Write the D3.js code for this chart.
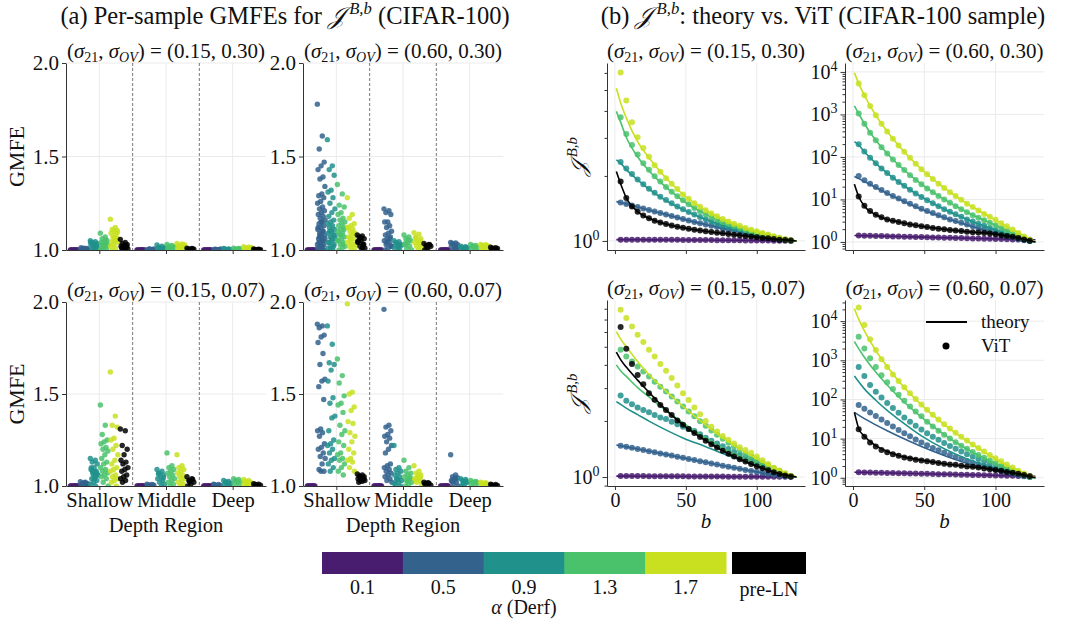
<!DOCTYPE html>
<html>
<head>
<meta charset="utf-8">
<script src="https://cdn.jsdelivr.net/npm/d3@7"></script>
<style>
body { margin: 0; background: #fff; }
text { font-family: "Liberation Serif", "Times New Roman", serif; fill: #111; }
</style>
</head>
<body>
<svg id="chart" width="1068" height="625"></svg>
<script>
// alpha (Derf) values and pre-LN, colours of the discrete viridis bar
var alphas = ['0.1', '0.5', '0.9', '1.3', '1.7'];
var groupColors = ['#481c6e', '#33628d', '#21918c', '#4ac26c', '#c8e020', '#000000'];
var regions = ['Shallow', 'Middle', 'Deep'];
var gmfeTicks = [1.0, 1.5, 2.0];

// ---- panel (a): per-sample GMFE, one list per group (0.1,0.5,0.9,1.3,1.7,pre-LN)
// (0.15, 0.30)
var a1Shallow = [
    [1,1,1,1,1,1,1,1,1,1],
    [1,1.003,1.005,1.008,1.01,1.012,1.006,1.002,1,1.004],
    [1.05,1.045,1.04,1.035,1.03,1.025,1.02,1.015,1.01,1.005,1,1.03,1.02,1.04,1.01],
    [1.09,1.07,1.06,1.05,1.045,1.04,1.035,1.03,1.025,1.02,1.015,1.01,1.005,1,1.055,1.03],
    [1.165,1.12,1.11,1.105,1.1,1.09,1.08,1.07,1.06,1.05,1.045,1.04,1.03,1.02,1.01,1,1.095,1.065],
    [1.057,1.04,1.035,1.03,1.025,1.02,1.015,1.01,1.005,1,1.01,1.02]
];
var a1Middle = [
    [1,1,1,1,1,1,1,1,1,1],
    [1,1.002,1.004,1.006,1.003,1,1.001,1.005],
    [1.027,1.02,1.015,1.01,1.008,1.005,1.003,1,1.012],
    [1.03,1.025,1.02,1.015,1.01,1.005,1,1.012,1.018],
    [1.035,1.032,1.025,1.02,1.015,1.01,1.005,1,1.028,1.012],
    [1.01,1.008,1.006,1.004,1.002,1,1.005,1.003]
];
var a1Deep = [
    [1,1,1,1,1,1,1,1,1,1],
    [1,1.002,1.004,1.005,1.001,1.003,1,1.002],
    [1.008,1.006,1.004,1.002,1,1.005,1.003],
    [1.01,1.008,1.006,1.004,1.002,1,1.005],
    [1.018,1.015,1.012,1.01,1.008,1.005,1.002,1,1.014],
    [1.005,1.004,1.003,1.002,1.001,1,1.002]
];
// (0.60, 0.30)
var a2Shallow = [
    [1,1,1,1,1,1,1,1,1,1],
    [1.78,1.61,1.54,1.47,1.45,1.43,1.39,1.38,1.34,1.3,1.29,1.28,1.26,1.25,1.23,1.22,1.21,1.2,1.19,1.18,1.17,1.16,1.15,1.14,1.13,1.12,1.11,1.1,1.09,1.08,1.07,1.06,1.05,1.04,1.03,1.02,1.01,1,1.15,1.12,1.1,1.08,1.06,1.05,1.04,1.03,1.02,1.01,1,1.07],
    [1.59,1.45,1.43,1.4,1.32,1.31,1.28,1.25,1.22,1.2,1.18,1.16,1.15,1.14,1.13,1.12,1.11,1.1,1.09,1.08,1.07,1.06,1.05,1.04,1.03,1.02,1.01,1,1.1,1.08,1.06,1.04,1.02,1.005],
    [1.35,1.3,1.24,1.23,1.2,1.19,1.17,1.16,1.15,1.14,1.13,1.12,1.11,1.1,1.09,1.08,1.07,1.06,1.05,1.04,1.03,1.02,1.01,1,1.11,1.08,1.05,1.03],
    [1.28,1.19,1.17,1.14,1.13,1.12,1.11,1.1,1.09,1.08,1.07,1.06,1.05,1.04,1.03,1.02,1.01,1,1.12,1.09,1.06,1.03],
    [1.08,1.075,1.07,1.06,1.05,1.04,1.03,1.02,1.01,1,1.05,1.03,1.065,1.045,1.015]
];
var a2Middle = [
    [1,1,1,1,1,1,1,1,1,1],
    [1.22,1.21,1.2,1.19,1.15,1.15,1.13,1.12,1.1,1.09,1.08,1.07,1.06,1.05,1.04,1.03,1.02,1.01,1,1.06,1.04,1.02],
    [1.05,1.045,1.04,1.03,1.02,1.01,1,1.035,1.025,1.015],
    [1.08,1.07,1.06,1.05,1.04,1.03,1.02,1.01,1,1.055,1.035],
    [1.093,1.085,1.07,1.06,1.05,1.04,1.03,1.02,1.01,1,1.065,1.045],
    [1.035,1.03,1.025,1.02,1.01,1,1.028,1.015]
];
var a2Deep = [
    [1,1,1,1,1,1,1,1,1,1],
    [1.04,1.038,1.035,1.03,1.025,1.02,1.01,1,1.015,1.005],
    [1.02,1.018,1.015,1.01,1.005,1,1.012],
    [1.03,1.025,1.02,1.015,1.01,1.005,1,1.02],
    [1.03,1.028,1.025,1.02,1.015,1.01,1.005,1,1.022],
    [1.015,1.012,1.01,1.008,1.005,1.002,1]
];
// (0.15, 0.07)
var a3Shallow = [
    [1,1,1,1,1,1,1,1,1,1],
    [1.023,1.02,1.015,1.01,1.008,1.005,1.002,1,1.012,1.018],
    [1.15,1.14,1.13,1.12,1.1,1.09,1.08,1.07,1.06,1.05,1.04,1.03,1.02,1.01,1,1.08,1.06,1.04,1.1,1.075,1.065],
    [1.44,1.33,1.28,1.25,1.24,1.23,1.21,1.2,1.19,1.17,1.15,1.13,1.12,1.1,1.09,1.08,1.07,1.06,1.05,1.04,1.02,1],
    [1.62,1.38,1.33,1.32,1.26,1.25,1.22,1.2,1.17,1.14,1.12,1.1,1.09,1.08,1.06,1.05,1.04,1.03,1.02,1],
    [1.31,1.3,1.22,1.2,1.17,1.14,1.13,1.12,1.1,1.09,1.08,1.06,1.05,1.04,1.03,1.02]
];
var a3Middle = [
    [1,1,1,1,1,1,1,1,1,1],
    [1.01,1.008,1.006,1.004,1.002,1,1.005,1.003],
    [1.09,1.08,1.07,1.06,1.05,1.04,1.03,1.02,1.01,1,1.065,1.045],
    [1.18,1.11,1.1,1.09,1.08,1.07,1.06,1.05,1.04,1.03,1.02,1.01,1],
    [1.17,1.11,1.1,1.09,1.08,1.07,1.06,1.05,1.04,1.03,1.02,1.01,1],
    [1.05,1.04,1.03,1.02,1.01,1,1.035,1.025]
];
var a3Deep = [
    [1,1,1,1,1,1,1,1,1,1],
    [1.01,1.008,1.005,1.003,1,1.006],
    [1.03,1.025,1.02,1.015,1.01,1.005,1,1.022],
    [1.04,1.035,1.03,1.025,1.02,1.01,1,1.028],
    [1.035,1.03,1.025,1.02,1.015,1.01,1.005,1],
    [1.012,1.01,1.008,1.005,1.003,1]
];
// (0.60, 0.07)
var a4Shallow = [
    [1,1,1,1,1,1,1,1,1,1],
    [1.88,1.87,1.86,1.82,1.81,1.78,1.72,1.66,1.58,1.57,1.54,1.47,1.31,1.3,1.29,1.27,1.23,1.21,1.2,1.18,1.16,1.15,1.12,1.09,1.08,1.08],
    [1.87,1.77,1.67,1.66,1.63,1.57,1.48,1.45,1.38,1.37,1.3,1.25,1.23,1.22,1.2,1.18,1.15,1.14,1.12,1.1,1.08],
    [1.69,1.6,1.56,1.49,1.45,1.44,1.4,1.33,1.3,1.28,1.24,1.22,1.18,1.17,1.15,1.14,1.12,1.1,1.08,1.06],
    [1.99,1.51,1.5,1.43,1.41,1.35,1.34,1.29,1.27,1.24,1.2,1.18,1.15,1.14,1.13,1.1,1.08],
    [1.065,1.06,1.055,1.05,1.045,1.04,1.035,1.03,1.03,1.025,1.02,1.04,1.05]
];
var a4Middle = [
    [1,1,1,1,1,1,1,1,1,1],
    [1.96,1.33,1.32,1.3,1.28,1.27,1.26,1.24,1.22,1.2,1.18,1.12,1.11,1.1,1.09,1.08,1.07,1.06,1.05,1.04,1.03,1.02],
    [1.22,1.1,1.09,1.08,1.07,1.06,1.05,1.04,1.03,1.02,1.01,1,1.035,1.015],
    [1.14,1.1,1.08,1.07,1.06,1.05,1.04,1.03,1.02,1.01,1,1.045,1.025],
    [1.11,1.08,1.07,1.06,1.05,1.04,1.03,1.02,1.01,1.055,1.035,1.045],
    [1.02,1.015,1.01,1.005,1.018,1.012]
];
var a4Deep = [
    [1,1,1,1,1,1,1,1,1,1],
    [1.17,1.06,1.05,1.045,1.04,1.03,1.02,1.01,1,1.035,1.025],
    [1.04,1.035,1.03,1.02,1.01,1,1.025,1.015],
    [1.03,1.025,1.02,1.015,1.01,1,1.022],
    [1.02,1.018,1.015,1.01,1.005,1,1.012],
    [1.01,1.008,1.005,1.003,1,1.006]
];

// ---- panel (b): log10 of J^{B,b}
var vitB = [4,8,12,16,20,24,28,32,36,40,44,48,52,56,60,64,68,72,76,80,84,88,92,96,100,104,108,112,116,120,124];
var theoryB = [1,4,8,16,24,32,48,64,80,96,112,128];

// (0.15, 0.30)
var b1Vit = [
    [.006,.006,.006,.006,.005,.005,.005,.005,.005,.005,.005,.004,.004,.004,.004,.004,.004,.003,.003,.003,.003,.003,.002,.002,.002,.002,.002,.001,.001,.001,.001],
    [.178,.171,.164,.157,.15,.143,.136,.129,.122,.115,.108,.101,.095,.088,.082,.076,.07,.064,.058,.052,.047,.041,.036,.031,.026,.021,.016,.012,.008,.004,.001],
    [.365,.335,.31,.285,.262,.242,.223,.205,.189,.174,.16,.147,.134,.122,.111,.1,.09,.081,.072,.064,.056,.049,.042,.036,.03,.024,.019,.014,.009,.005,.002],
    [.573,.495,.444,.40,.36,.33,.30,.275,.25,.228,.207,.188,.17,.153,.138,.124,.111,.099,.088,.078,.069,.06,.052,.045,.038,.031,.025,.018,.012,.007,.002],
    [.78,.65,.55,.48,.43,.39,.35,.32,.29,.265,.24,.215,.195,.175,.158,.142,.127,.114,.102,.09,.08,.07,.06,.052,.045,.037,.03,.022,.015,.008,.003],
    [.275,.199,.159,.135,.118,.105,.094,.085,.078,.071,.066,.061,.056,.052,.048,.045,.041,.038,.035,.032,.029,.026,.023,.02,.017,.014,.012,.009,.006,.004,.002]
];
var b1Theory = [
    [.006,.006,.006,.006,.005,.005,.004,.004,.003,.002,.001,0],
    [.182,.178,.171,.157,.143,.129,.101,.076,.052,.031,.012,0],
    [.375,.36,.33,.283,.24,.203,.145,.099,.063,.035,.013,0],
    [.6,.55,.48,.39,.325,.272,.186,.123,.077,.044,.018,0],
    [.707,.64,.57,.46,.385,.32,.215,.142,.09,.052,.022,0],
    [.321,.265,.2,.135,.105,.085,.061,.045,.032,.02,.009,0]
];
// (0.60, 0.30)
var b2Vit = [
    [.15,.147,.143,.14,.137,.133,.13,.127,.123,.12,.117,.113,.11,.107,.103,.1,.097,.093,.09,.087,.083,.08,.077,.073,.07,.067,.063,.06,.057,.053,.05],
    [1.55,1.45,1.37,1.29,1.22,1.15,1.08,1.02,.96,.9,.84,.78,.73,.68,.63,.58,.53,.49,.45,.41,.37,.33,.29,.25,.21,.18,.14,.11,.07,.04,.02],
    [2.3,2.13,1.98,1.85,1.73,1.62,1.51,1.41,1.32,1.23,1.14,1.06,.98,.91,.84,.77,.71,.65,.59,.53,.48,.43,.38,.33,.28,.24,.19,.15,.1,.06,.02],
    [3.02,2.78,2.57,2.39,2.23,2.08,1.94,1.81,1.69,1.57,1.46,1.36,1.26,1.17,1.08,1.0,.92,.84,.77,.7,.63,.57,.51,.45,.39,.33,.27,.21,.15,.09,.04],
    [3.73,3.45,3.2,2.98,2.78,2.6,2.43,2.27,2.12,1.98,1.84,1.71,1.59,1.48,1.37,1.27,1.17,1.08,.99,.9,.82,.74,.66,.59,.52,.44,.37,.29,.21,.13,.05],
    [1.07,.85,.73,.64,.58,.53,.5,.47,.44,.41,.39,.37,.35,.33,.31,.3,.28,.27,.26,.24,.23,.22,.21,.2,.18,.16,.14,.12,.09,.06,.03]
];
var b2Theory = [
    [.15,.149,.147,.14,.134,.127,.113,.1,.087,.073,.06,.05],
    [1.54,1.49,1.42,1.28,1.14,1.01,.77,.57,.4,.24,.1,0],
    [2.36,2.28,2.12,1.85,1.62,1.41,1.06,.77,.53,.33,.15,0],
    [3.2,3.02,2.78,2.39,2.08,1.81,1.36,1.0,.7,.45,.21,0],
    [3.98,3.73,3.45,2.98,2.6,2.27,1.71,1.27,.9,.59,.29,0],
    [1.36,1.07,.84,.64,.53,.47,.37,.3,.24,.2,.12,0]
];
// (0.15, 0.07)
var b3Vit = [
    [.005,.005,.005,.005,.005,.004,.004,.004,.004,.004,.004,.004,.003,.003,.003,.003,.003,.003,.003,.002,.002,.002,.002,.002,.002,.001,.001,.001,.001,.001,.001],
    [.168,.162,.157,.151,.145,.139,.133,.127,.121,.115,.109,.103,.097,.091,.085,.079,.073,.067,.061,.055,.05,.044,.038,.033,.028,.022,.017,.012,.008,.004,.001],
    [.437,.409,.39,.373,.36,.348,.333,.319,.312,.297,.283,.27,.258,.247,.23,.211,.195,.18,.165,.15,.135,.12,.106,.093,.08,.067,.054,.041,.029,.017,.006],
    [.683,.647,.62,.593,.566,.539,.512,.485,.459,.432,.405,.378,.352,.326,.3,.275,.25,.227,.205,.184,.164,.145,.127,.11,.094,.078,.062,.047,.032,.018,.005],
    [.898,.853,.808,.763,.724,.683,.647,.606,.57,.531,.491,.45,.414,.373,.337,.301,.27,.245,.22,.2,.18,.16,.145,.13,.11,.09,.07,.05,.035,.02,.005],
    [.805,.688,.606,.548,.498,.45,.415,.387,.36,.333,.303,.28,.258,.236,.215,.195,.176,.158,.141,.125,.11,.096,.083,.07,.058,.047,.036,.026,.017,.009,.003]
];
var b3Theory = [
    [.005,.005,.005,.004,.004,.004,.003,.003,.002,.002,.001,0],
    [.172,.168,.162,.151,.139,.127,.103,.079,.055,.033,.012,0],
    [.405,.39,.37,.335,.3,.268,.21,.163,.115,.07,.03,0],
    [.602,.57,.54,.48,.43,.38,.29,.21,.14,.085,.035,0],
    [.78,.74,.7,.62,.55,.49,.38,.28,.19,.115,.05,0],
    [.67,.63,.59,.52,.455,.39,.28,.195,.125,.07,.026,0]
];
// (0.60, 0.07)
var b4Vit = [
    [.14,.137,.133,.13,.127,.123,.12,.117,.113,.11,.107,.103,.1,.097,.093,.09,.087,.083,.08,.077,.073,.07,.067,.063,.06,.057,.053,.05,.047,.043,.04],
    [1.86,1.76,1.67,1.58,1.49,1.4,1.31,1.22,1.14,1.06,.98,.9,.83,.76,.7,.64,.58,.53,.48,.43,.38,.34,.3,.26,.22,.18,.14,.11,.07,.04,.02],
    [2.83,2.6,2.37,2.2,2.05,1.91,1.78,1.66,1.54,1.43,1.33,1.23,1.14,1.05,.97,.89,.81,.74,.67,.6,.54,.48,.42,.36,.31,.26,.21,.16,.11,.06,.02],
    [3.6,3.3,3.05,2.83,2.62,2.44,2.27,2.12,1.97,1.82,1.69,1.57,1.43,1.31,1.2,1.1,1.0,.91,.82,.74,.66,.58,.51,.44,.38,.31,.25,.19,.13,.08,.03],
    [4.35,3.9,3.54,3.26,3.03,2.83,2.64,2.47,2.31,2.16,2.01,1.87,1.74,1.61,1.49,1.37,1.26,1.15,1.05,.95,.85,.76,.67,.58,.5,.42,.34,.26,.18,.11,.04],
    [1.24,1.05,.9,.8,.71,.65,.6,.56,.52,.49,.46,.44,.42,.4,.38,.36,.34,.33,.31,.29,.28,.26,.24,.22,.2,.18,.15,.13,.1,.07,.04]
];
var b4Theory = [
    [.14,.139,.137,.13,.123,.117,.103,.09,.077,.063,.05,.04],
    [1.67,1.6,1.51,1.35,1.2,1.06,.8,.57,.37,.21,.08,0],
    [2.6,2.45,2.27,1.98,1.72,1.49,1.07,.74,.48,.28,.12,0],
    [3.48,3.3,3.08,2.7,2.37,2.07,1.55,1.1,.73,.43,.19,0],
    [4.32,4.05,3.75,3.25,2.84,2.47,1.86,1.36,.94,.57,.25,0],
    [1.67,1.26,1.06,.82,.67,.57,.45,.36,.29,.22,.13,0]
];

var svg = d3.select('#chart');
var FONT = '"Liberation Serif", "Times New Roman", serif';

function styleAxis(g, size){
    g.attr('font-family', FONT).attr('font-size', size);
    g.select('.domain').attr('stroke', '#333');
    g.selectAll('.tick line').attr('stroke', '#333');
    g.selectAll('.tick text').attr('fill', '#111');
}

// (σ21, σOV) = (a, b) title with sub-scripts
function sigmaTitle(cx, y, s21, sov){
    var t = svg.append('text').attr('x', cx).attr('y', y)
        .attr('text-anchor', 'middle').style('font-size', '21px');
    t.append('tspan').text('(');
    t.append('tspan').style('font-style', 'italic').text('σ');
    t.append('tspan').attr('dy', 4).style('font-size', '14px').text('21');
    t.append('tspan').attr('dy', -4).text(', ');
    t.append('tspan').style('font-style', 'italic').text('σ');
    t.append('tspan').attr('dy', 4).style('font-size', '14px').style('font-style', 'italic').text('OV');
    t.append('tspan').attr('dy', -4).text(') = (' + s21 + ', ' + sov + ')');
}

// script J with B,b superscript
function jLabel(sel, size){
    sel.append('tspan').style('font-style', 'italic').text('𝒥');
    sel.append('tspan').attr('dy', -size * 0.42).style('font-size', (size * 0.68) + 'px')
        .style('font-style', 'italic').text(' B,b');
    return sel;
}

function drawStrip(p){
    var x = d3.scaleLinear().domain([-0.5, 2.5]).range([p.left, p.right]);
    var y = d3.scaleLinear().domain([1, 2]).range([p.bottom, p.top]);
    var g = svg.append('g');

    // grid
    g.selectAll('line.hg').data(gmfeTicks).enter().append('line')
        .attr('x1', p.left).attr('x2', p.right)
        .attr('y1', function(d){ return y(d); }).attr('y2', function(d){ return y(d); })
        .attr('stroke', '#ebebeb');
    g.selectAll('line.vg').data([0, 1, 2]).enter().append('line')
        .attr('y1', p.top).attr('y2', p.bottom)
        .attr('x1', function(d){ return x(d); }).attr('x2', function(d){ return x(d); })
        .attr('stroke', '#ebebeb');
    // region dividers
    g.selectAll('line.div').data([0.5, 1.5]).enter().append('line')
        .attr('y1', p.top).attr('y2', p.bottom)
        .attr('x1', function(d){ return x(d); }).attr('x2', function(d){ return x(d); })
        .attr('stroke', '#777').attr('stroke-dasharray', '3,2');

    var clipId = 'clip' + p.id;
    svg.append('clipPath').attr('id', clipId).append('rect')
        .attr('x', p.left - 5).attr('y', p.top - 5)
        .attr('width', p.right - p.left + 10).attr('height', p.bottom - p.top + 5);
    var dots = g.append('g').attr('clip-path', 'url(#' + clipId + ')');

    p.data.forEach(function(region, ri){
        region.forEach(function(vals, gi){
            dots.append('g').selectAll('circle').data(vals).enter().append('circle')
                .attr('cx', function(d, i){
                    var jit = ((i * 0.618034) % 1 - 0.5) * 0.12;
                    return x(ri + (gi - 2.5) * 0.15 + jit);
                })
                .attr('cy', function(d){ return y(d); })
                .attr('r', 2.7)
                .attr('fill', groupColors[gi])
                .attr('fill-opacity', 0.85);
        });
    });

    var yAxis = g.append('g').attr('transform', 'translate(' + p.left + ',0)')
        .call(d3.axisLeft(y).tickValues(gmfeTicks).tickFormat(d3.format('.1f'))
            .tickSize(4).tickSizeOuter(0).tickPadding(3));
    styleAxis(yAxis, 21);

    var xAxis = g.append('g').attr('transform', 'translate(0,' + p.bottom + ')')
        .call(d3.axisBottom(x).tickValues([0, 1, 2])
            .tickFormat(function(d, i){ return p.labels ? regions[i] : ''; })
            .tickSize(4).tickSizeOuter(0).tickPadding(2));
    styleAxis(xAxis, 20.5);

    sigmaTitle((p.left + p.right) / 2, p.top - 5, p.s21, p.sov);

    if(p.ylabel){
        svg.append('text').attr('transform', 'translate(24,' + ((p.top + p.bottom) / 2) + ') rotate(-90)')
            .attr('text-anchor', 'middle').style('font-size', '22px').text('GMFE');
    }
    if(p.labels){
        svg.append('text').attr('x', (p.left + p.right) / 2).attr('y', p.bottom + 46)
            .attr('text-anchor', 'middle').style('font-size', '20.5px').text('Depth Region');
    }
}

function drawCurves(p){
    var x = d3.scaleLinear().domain([-5.6, 134]).range([p.left, p.right]);
    var y = d3.scaleLog().domain([Math.pow(10, p.lo), Math.pow(10, p.hi)]).range([p.bottom, p.top]);
    var g = svg.append('g');

    var majors = [], minors = [];
    for(var k = Math.floor(p.lo); k <= Math.ceil(p.hi); k++){
        var v = Math.pow(10, k);
        if(k >= p.lo && k <= p.hi) majors.push(v);
        for(var m = 2; m < 10; m++){
            var mv = m * v;
            if(Math.log10(mv) > p.lo && Math.log10(mv) < p.hi) minors.push(mv);
        }
    }

    // grid
    g.selectAll('line.hg').data(majors).enter().append('line')
        .attr('x1', p.left).attr('x2', p.right)
        .attr('y1', function(d){ return y(d); }).attr('y2', function(d){ return y(d); })
        .attr('stroke', '#ebebeb');
    g.selectAll('line.vg').data([0, 50, 100]).enter().append('line')
        .attr('y1', p.top).attr('y2', p.bottom)
        .attr('x1', function(d){ return x(d); }).attr('x2', function(d){ return x(d); })
        .attr('stroke', '#ebebeb');

    var line = d3.line()
        .x(function(d){ return x(d[0]); })
        .y(function(d){ return y(Math.pow(10, d[1])); })
        .curve(d3.curveMonotoneX);

    groupColors.forEach(function(c, gi){
        g.append('path')
            .datum(theoryB.map(function(b, i){ return [b, p.theory[gi][i]]; }))
            .attr('d', line).attr('fill', 'none').attr('stroke', c).attr('stroke-width', 1.6);
        g.append('g').selectAll('circle')
            .data(vitB.map(function(b, i){ return [b, p.vit[gi][i]]; }))
            .enter().append('circle')
            .attr('cx', function(d){ return x(d[0]); })
            .attr('cy', function(d){ return y(Math.pow(10, d[1])); })
            .attr('r', 3).attr('fill', c).attr('fill-opacity', 0.85);
    });

    var minorAxis = g.append('g').attr('transform', 'translate(' + p.left + ',0)')
        .call(d3.axisLeft(y).tickValues(minors).tickFormat('').tickSize(2.5).tickSizeOuter(0));
    styleAxis(minorAxis, 19);
    minorAxis.select('.domain').remove();

    var yAxis = g.append('g').attr('transform', 'translate(' + p.left + ',0)')
        .call(d3.axisLeft(y).tickValues(majors).tickFormat('').tickSize(4.5).tickSizeOuter(0).tickPadding(3));
    styleAxis(yAxis, 20);
    yAxis.selectAll('.tick text').each(function(d){
        var t = d3.select(this);
        t.append('tspan').text('10');
        t.append('tspan').attr('dy', -8).style('font-size', '14px').text(Math.round(Math.log10(d)));
    });

    var xAxis = g.append('g').attr('transform', 'translate(0,' + p.bottom + ')')
        .call(d3.axisBottom(x).tickValues([0, 50, 100])
            .tickFormat(function(d){ return p.labels ? d : ''; })
            .tickSize(4).tickSizeOuter(0).tickPadding(3));
    styleAxis(xAxis, 20);

    sigmaTitle((p.left + p.right) / 2, p.top - 5, p.s21, p.sov);

    if(p.ylabel){
        var t = svg.append('text')
            .attr('transform', 'translate(586,' + ((p.top + p.bottom) / 2) + ') rotate(-90)')
            .attr('text-anchor', 'middle').style('font-size', '22px');
        jLabel(t, 22);
    }
    if(p.labels){
        svg.append('text').attr('x', (p.left + p.right) / 2).attr('y', p.bottom + 42)
            .attr('text-anchor', 'middle').style('font-size', '21px').style('font-style', 'italic').text('b');
    }
}

// main titles
var ta = svg.append('text').attr('x', 285).attr('y', 24).attr('text-anchor', 'middle').style('font-size', '24.5px');
ta.append('tspan').text('(a) Per-sample GMFEs for ');
jLabel(ta, 24.5);
ta.append('tspan').attr('dy', 24.5 * 0.42).text(' (CIFAR-100)');

var tb = svg.append('text').attr('x', 823).attr('y', 24).attr('text-anchor', 'middle').style('font-size', '24.5px');
tb.append('tspan').text('(b) ');
jLabel(tb, 24.5);
tb.append('tspan').attr('dy', 24.5 * 0.42).text(': theory vs. ViT (CIFAR-100 sample)');

drawStrip({id: 'a1', left: 66, right: 266, top: 63, bottom: 250, data: [a1Shallow, a1Middle, a1Deep], s21: '0.15', sov: '0.30', ylabel: true, labels: false});
drawStrip({id: 'a2', left: 303, right: 503, top: 63, bottom: 250, data: [a2Shallow, a2Middle, a2Deep], s21: '0.60', sov: '0.30', ylabel: false, labels: false});
drawStrip({id: 'a3', left: 66, right: 266, top: 302, bottom: 486, data: [a3Shallow, a3Middle, a3Deep], s21: '0.15', sov: '0.07', ylabel: true, labels: true});
drawStrip({id: 'a4', left: 303, right: 503, top: 302, bottom: 486, data: [a4Shallow, a4Middle, a4Deep], s21: '0.60', sov: '0.07', ylabel: false, labels: true});

drawCurves({left: 607, right: 805, top: 63, bottom: 250, lo: -0.042, hi: 0.824, vit: b1Vit, theory: b1Theory, s21: '0.15', sov: '0.30', ylabel: true, labels: false});
drawCurves({left: 845, right: 1044, top: 63, bottom: 250, lo: -0.19, hi: 4.21, vit: b2Vit, theory: b2Theory, s21: '0.60', sov: '0.30', ylabel: false, labels: false});
drawCurves({left: 607, right: 805, top: 300, bottom: 486, lo: -0.048, hi: 0.95, vit: b3Vit, theory: b3Theory, s21: '0.15', sov: '0.07', ylabel: true, labels: true});
drawCurves({left: 845, right: 1044, top: 300, bottom: 486, lo: -0.21, hi: 4.54, vit: b4Vit, theory: b4Theory, s21: '0.60', sov: '0.07', ylabel: false, labels: true});

// legend inside the last panel
var leg = svg.append('g');
leg.append('line').attr('x1', 926).attr('x2', 967).attr('y1', 322).attr('y2', 322)
    .attr('stroke', '#000').attr('stroke-width', 1.8);
leg.append('text').attr('x', 981).attr('y', 328).style('font-size', '19px').text('theory');
leg.append('circle').attr('cx', 946).attr('cy', 346).attr('r', 3.5).attr('fill', '#000');
leg.append('text').attr('x', 981).attr('y', 352).style('font-size', '19px').text('ViT');

// colour bar
var cb = d3.scaleBand().domain(alphas).range([322, 726]).paddingInner(0);
svg.append('g').selectAll('rect').data(alphas).enter().append('rect')
    .attr('x', function(d){ return cb(d); }).attr('y', 552)
    .attr('width', cb.bandwidth() + 0.5).attr('height', 22)
    .attr('fill', function(d, i){ return groupColors[i]; });
svg.append('g').selectAll('text').data(alphas).enter().append('text')
    .attr('x', function(d){ return cb(d) + cb.bandwidth() / 2; }).attr('y', 594)
    .attr('text-anchor', 'middle').style('font-size', '20px').text(function(d){ return d; });
svg.append('rect').attr('x', 732).attr('y', 552).attr('width', 74).attr('height', 22).attr('fill', '#000');
svg.append('text').attr('x', 769).attr('y', 596).attr('text-anchor', 'middle').style('font-size', '20px').text('pre-LN');
var al = svg.append('text').attr('x', 524).attr('y', 614).attr('text-anchor', 'middle').style('font-size', '20px');
al.append('tspan').style('font-style', 'italic').text('α');
al.append('tspan').text(' (Derf)');
</script>
</body>
</html>
